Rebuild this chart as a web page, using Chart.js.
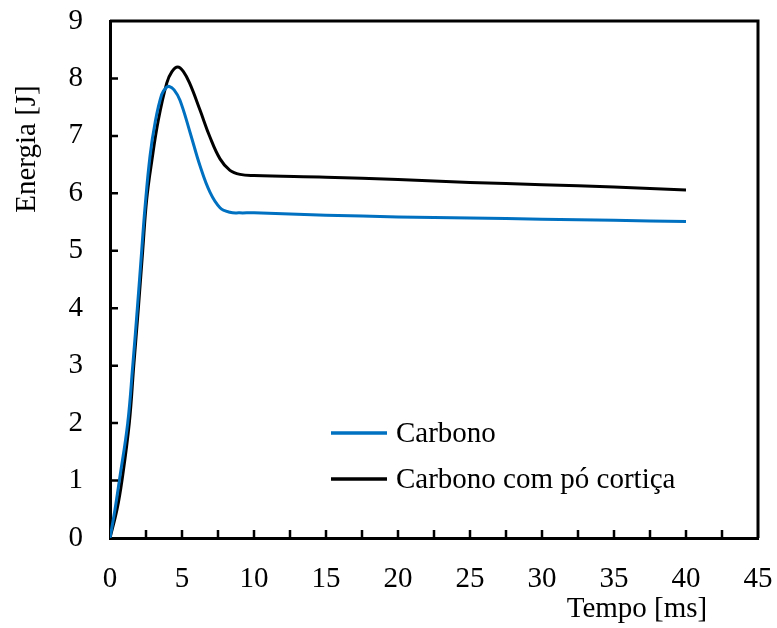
<!DOCTYPE html>
<html>
<head>
<meta charset="utf-8">
<script src="https://cdn.jsdelivr.net/npm/chart.js@4"></script>
<style>
  body { margin: 0; background: #fff; }
  #wrap { width: 777px; height: 628px; position: relative; }
</style>
</head>
<body>
<div id="wrap"><canvas id="grafico"></canvas></div>
<script>
// dados
const tempoCarbono = [0, 0.35, 0.65, 1.23, 1.58, 1.9, 2.2, 2.43, 2.78, 3.13, 3.59, 3.9, 4.12, 4.45, 4.86, 5.56, 6.25, 6.94, 7.64, 8.33, 9, 10, 15, 20, 25, 30, 35, 40];
const energiaCarbono = [0, 0.5, 1.0, 2.0, 3.0, 4.0, 5.0, 5.75, 6.65, 7.23, 7.72, 7.84, 7.86, 7.8, 7.62, 7.06, 6.48, 6.02, 5.75, 5.67, 5.66, 5.66, 5.62, 5.59, 5.57, 5.55, 5.53, 5.51];

const tempoCortica = [0, 0.49, 0.83, 1.34, 1.65, 1.97, 2.27, 2.55, 2.9, 3.36, 3.94, 4.3, 4.7, 5.1, 5.56, 6.25, 6.94, 7.64, 8.33, 9.03, 10, 15, 20, 25, 30, 35, 40];
const energiaCortica = [0, 0.5, 1.0, 2.0, 3.0, 4.0, 5.0, 5.9, 6.56, 7.28, 7.92, 8.12, 8.2, 8.12, 7.9, 7.45, 6.98, 6.6, 6.4, 6.33, 6.31, 6.28, 6.24, 6.19, 6.15, 6.11, 6.06];

const legendas = ['Carbono', 'Carbono com pó cortiça'];
const cores = ['#0070C0', '#000000'];
const xTicks = [0, 5, 10, 15, 20, 25, 30, 35, 40, 45];
const yTicks = [0, 1, 2, 3, 4, 5, 6, 7, 8, 9];
const tituloX = 'Tempo [ms]';
const tituloY = 'Energia [J]';

const fonte = '"Liberation Serif", "Times New Roman", serif';

function pontos(xs, ys) {
  return xs.map((x, i) => ({ x: x, y: ys[i] }));
}

// moldura, marcas para dentro, titulos e legenda
const extras = {
  id: 'extras',
  afterDraw(chart) {
    const ctx = chart.ctx;
    const a = chart.chartArea;
    const sx = chart.scales.x;
    const sy = chart.scales.y;
    ctx.save();
    ctx.strokeStyle = '#000';
    ctx.lineWidth = 3;
    ctx.beginPath();
    ctx.moveTo(a.left, a.top);
    ctx.lineTo(a.right, a.top);
    ctx.lineTo(a.right, a.bottom);
    ctx.stroke();

    ctx.lineWidth = 2.5;
    ctx.beginPath();
    for (let v = 2.5; v < 45; v += 2.5) {
      const px = sx.getPixelForValue(v);
      ctx.moveTo(px, a.bottom);
      ctx.lineTo(px, a.bottom - 8);
    }
    for (let v = 1; v < 9; v++) {
      const py = sy.getPixelForValue(v);
      ctx.moveTo(a.left, py);
      ctx.lineTo(a.left + 8, py);
    }
    ctx.stroke();

    ctx.fillStyle = '#000';
    ctx.font = '29px ' + fonte;
    ctx.textBaseline = 'middle';
    ctx.textAlign = 'center';
    ctx.fillText(tituloX, 637, 609);

    ctx.save();
    ctx.translate(27, 149);
    ctx.rotate(-Math.PI / 2);
    ctx.fillText(tituloY, 0, 0);
    ctx.restore();

    // legenda
    const linhas = [433, 479];
    ctx.textAlign = 'left';
    chart.data.datasets.forEach((ds, i) => {
      ctx.strokeStyle = ds.borderColor;
      ctx.lineWidth = 3.5;
      ctx.beginPath();
      ctx.moveTo(331, linhas[i]);
      ctx.lineTo(387, linhas[i]);
      ctx.stroke();
      ctx.fillStyle = '#000';
      ctx.fillText(ds.label, 396, linhas[i] + 1);
    });
    ctx.restore();
  }
};

new Chart(document.getElementById('grafico'), {
  type: 'line',
  data: {
    datasets: [
      {
        label: legendas[0],
        data: pontos(tempoCarbono, energiaCarbono),
        borderColor: cores[0],
        borderWidth: 3,
        pointRadius: 0,
        fill: false,
        tension: 0.4,
      },
      {
        label: legendas[1],
        data: pontos(tempoCortica, energiaCortica),
        borderColor: cores[1],
        borderWidth: 3,
        pointRadius: 0,
        fill: false,
        tension: 0.4,
      },
    ],
  },
  options: {
    responsive: true,
    maintainAspectRatio: false,
    animation: false,
    layout: { padding: { left: 0, top: 21, right: 19, bottom: 0 } },
    scales: {
      x: {
        type: 'linear',
        min: 0,
        max: 45,
        afterFit: s => {
          s.height = 90;
          s.paddingLeft = 0;
          s.paddingRight = 0;
        },
        afterBuildTicks: s => { s.ticks = xTicks.map(v => ({ value: v })); },
        grid: { display: true, drawOnChartArea: false, drawTicks: false },
        border: { display: true, color: '#000', width: 3 },
        ticks: {
          color: '#000',
          font: { family: fonte, size: 29 },
          padding: 24,
          maxRotation: 0,
          autoSkip: false,
        },
      },
      y: {
        min: 0,
        max: 9,
        afterFit: s => {
          s.width = 110;
          s.paddingTop = 0;
          s.paddingBottom = 0;
        },
        afterBuildTicks: s => { s.ticks = yTicks.map(v => ({ value: v })); },
        grid: { display: true, drawOnChartArea: false, drawTicks: false },
        border: { display: true, color: '#000', width: 3 },
        ticks: {
          color: '#000',
          font: { family: fonte, size: 29 },
          padding: 27,
          autoSkip: false,
        },
      },
    },
    plugins: {
      legend: { display: false },
      tooltip: { enabled: false },
    },
  },
  plugins: [extras],
});
</script>
</body>
</html>
